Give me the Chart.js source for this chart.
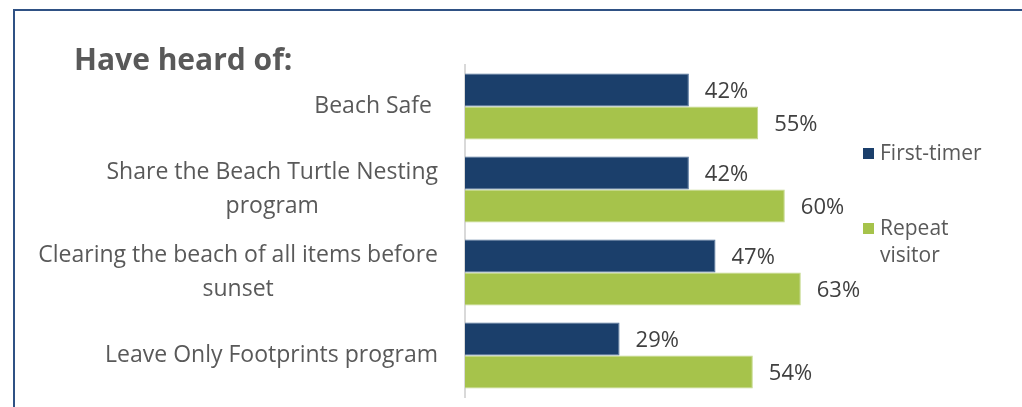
<!DOCTYPE html>
<html>
<head>
<meta charset="utf-8">
<script src="https://cdn.jsdelivr.net/npm/chart.js@4"></script>
<style>
  body { margin: 0; background: #fff; font-family: 'Open Sans', sans-serif; }
  .wrap { position: relative; width: 1022px; height: 407px; overflow: hidden; }
  .frame { position: absolute; left: 13px; top: 9px; right: -10px; bottom: -10px;
           border-left: 2px solid #2f5184; border-top: 2px solid #2f5184; }
  .heading { position: absolute; left: 74px; top: 38px; margin: 0;
             font-size: 30px; font-weight: bold; color: #595959; }
  .legend { position: absolute; left: 862px; top: 139px; width: 126px; }
  .legend .item { display: flex; align-items: flex-start; font-size: 21px; line-height: 27px; color: #595959; }
  .legend .item span.box { width: 11px; height: 11px; margin: 9px 6px 0 1px; flex: none; }
  .legend .item + .item { margin-top: 48px; }
</style>
</head>
<body>
<div class="wrap">
  <div class="frame"></div>
  <canvas id="bar-chart" width="1022" height="407"></canvas>
  <h2 class="heading">Have heard of:</h2>
  <div class="legend" id="legend"></div>
</div>
<script>
'use strict';

var categories = [
    'Beach Safe ',
    ['Share the Beach Turtle Nesting', 'program'],
    ['Clearing the beach of all items before', 'sunset'],
    'Leave Only Footprints program'
];
var firstTimer = [42, 42, 47, 29];
var repeatVisitor = [55, 60, 63, 54];
var seriesNames = ['First-timer', 'Repeat visitor'];
var seriesColors = ['#1b3f6b', '#a6c34b'];

// percentage labels to the right of each bar
var valueLabels = {
    id: 'valueLabels',
    afterDatasetsDraw: function (chart) {
        var ctx = chart.ctx;
        ctx.save();
        ctx.font = '22px "Open Sans"';
        ctx.fillStyle = '#404040';
        ctx.textAlign = 'left';
        ctx.textBaseline = 'middle';
        chart.data.datasets.forEach(function (ds, i) {
            chart.getDatasetMeta(i).data.forEach(function (bar, j) {
                ctx.fillText(ds.data[j] + '%', bar.x + 16, bar.y + 2);
            });
        });
        ctx.restore();
    }
};

// category names: block right-aligned to the axis, lines centered within it
var categoryLabels = {
    id: 'categoryLabels',
    afterDraw: function (chart) {
        var ctx = chart.ctx,
            yScale = chart.scales.y,
            right = yScale.right - 27,
            lineH = 34;
        ctx.save();
        ctx.font = '23px "Open Sans"';
        ctx.fillStyle = '#595959';
        ctx.textAlign = 'center';
        ctx.textBaseline = 'middle';
        chart.data.labels.forEach(function (label, i) {
            var lines = [].concat(label),
                widest = 0;
            lines.forEach(function (l) { widest = Math.max(widest, ctx.measureText(l).width); });
            var cx = right - widest / 2,
                y0 = yScale.getPixelForValue(i) - (lines.length - 1) * lineH / 2;
            lines.forEach(function (l, k) {
                ctx.fillText(l, cx, y0 + k * lineH);
            });
        });
        ctx.restore();
    }
};

var chart = new Chart(document.getElementById('bar-chart'), {
    type: 'bar',
    data: {
        labels: categories,
        datasets: [{
            label: seriesNames[0],
            data: firstTimer,
            backgroundColor: seriesColors[0],
            borderColor: '#4d6f98',
            borderWidth: 1
        }, {
            label: seriesNames[1],
            data: repeatVisitor,
            backgroundColor: seriesColors[1],
            borderColor: '#c3d88a',
            borderWidth: 1
        }]
    },
    options: {
        indexAxis: 'y',
        responsive: false,
        animation: false,
        layout: { padding: { left: 0, top: 65, bottom: 10, right: 24 } },
        datasets: {
            bar: { categoryPercentage: 0.795, barPercentage: 1 }
        },
        plugins: {
            legend: { display: false },
            tooltip: { enabled: false }
        },
        scales: {
            x: { display: false, min: 0, max: 100 },
            y: {
                // fixed label column; labels drawn by categoryLabels
                afterFit: function (scale) {
                    scale.width = 465;
                    scale.paddingTop = 0;
                    scale.paddingBottom = 0;
                },
                grid: { display: false, drawTicks: false },
                border: { color: '#d9d9d9', width: 2 },
                ticks: { display: false }
            }
        }
    },
    plugins: [valueLabels, categoryLabels]
});

// legend built from the datasets
var legend = document.getElementById('legend');
chart.data.datasets.forEach(function (ds) {
    var item = document.createElement('div');
    item.className = 'item';
    var box = document.createElement('span');
    box.className = 'box';
    box.style.background = ds.backgroundColor;
    var text = document.createElement('span');
    text.textContent = ds.label;
    item.appendChild(box);
    item.appendChild(text);
    legend.appendChild(item);
});
</script>
</body>
</html>
